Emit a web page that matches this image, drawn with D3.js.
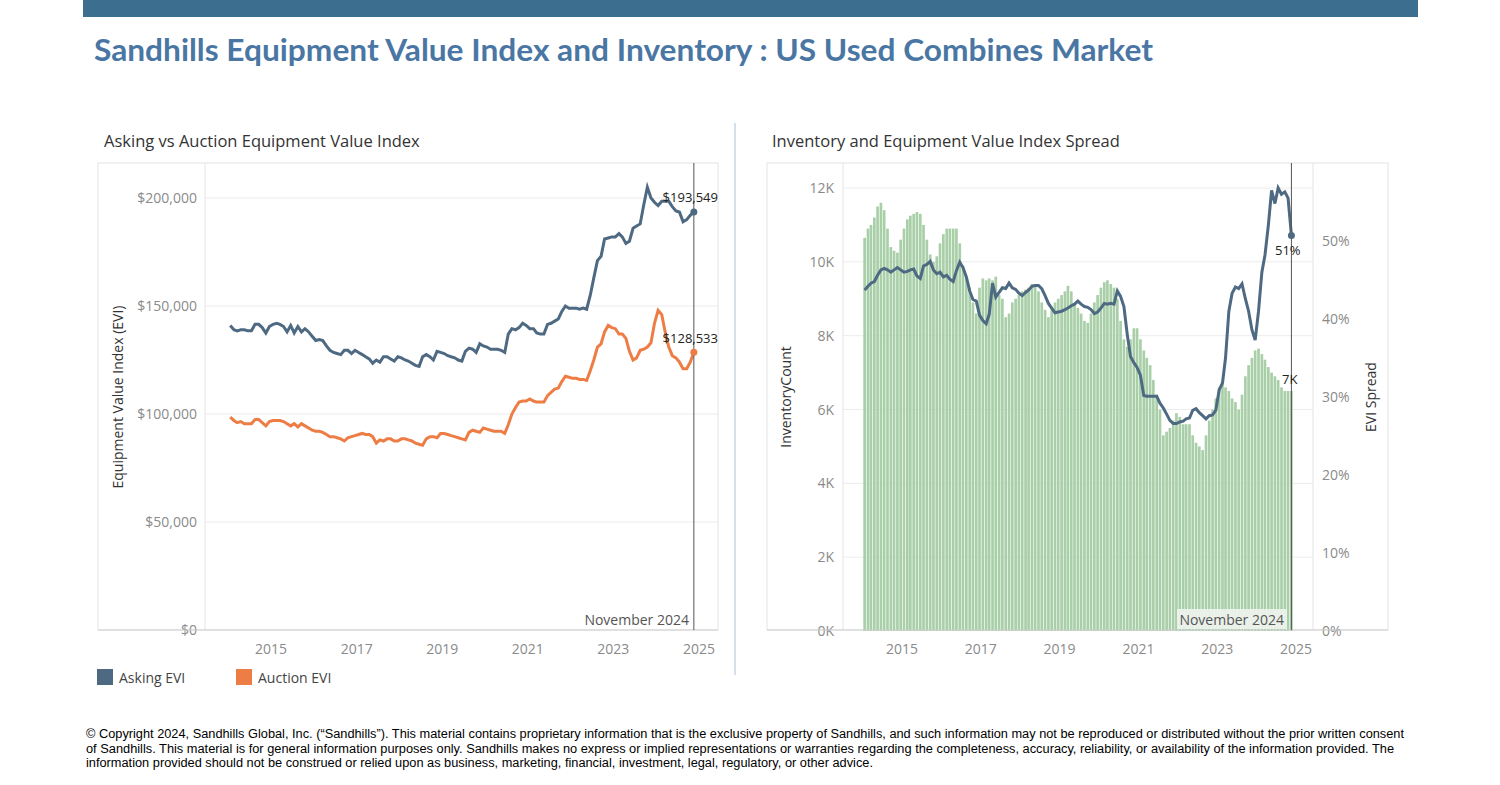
<!DOCTYPE html>
<html>
<head>
<meta charset="utf-8">
<script src="https://d3js.org/d3.v7.min.js"></script>
<style>
body{margin:0;background:#fff;}
text{font-family:"Open Sans",Lato,sans-serif;}
</style>
</head>
<body>
<svg id="chart" width="1500" height="785"></svg>
<script>
// monthly values, Jan 2014 .. Nov 2024
var askingEVI = [
  141,139,138.5,139,139,138.5,138.5,141.5,141.5,140,137.5,140.5,
  141.5,142,141.5,140.5,138,141,137.5,140.5,138,139.5,138,136,
  134,134.5,134,131.5,129.5,128.5,128,127.5,129.5,129.5,128,129.5,
  128.5,127.5,126.5,125.5,123.5,125,124,126.5,126.5,125.5,124.5,126.5,
  126,125,124.5,123.5,122.5,122,126.5,127.5,126.5,125,129,128.5,
  128,127,126.5,126,125,124.5,129,130.5,130,128.5,132.5,131.5,
  131,130,130,130,129.5,128.5,137,139.5,139,140,142,141,
  139.5,139.5,137.5,137,137,141.5,142,143,144,147.5,150,149,
  149,149,148.5,149,148.5,155,163,171,173,181,181.5,182,
  182,183.5,182,179,180,186,187,188,197,205,200,198,
  196.5,198.5,198.5,198.5,196,194,193.5,189,190,192,193.549
];
var auctionEVI = [
  98.5,97,96,96.5,95.5,95.5,95.5,97.5,97.5,96,94.5,96.5,
  97,97,97,96.5,95.5,94.5,95.5,94,95.5,94.5,93.5,92.5,
  92,92,91.5,90.5,89.5,89.5,89,88.5,87.5,89,89.5,90,
  90.5,91,90.5,90.5,89.5,86.5,88,87.5,88.5,88.5,87.5,87.5,
  88.5,88.5,88,87.5,86.5,86,85.5,88.5,89.5,89.5,89,91,
  91,90.5,90,89.5,89,88.5,88,91.5,92.5,92,91.5,93.5,
  93,92.5,92,92,92,91,95,100,103,105.5,106,106,
  107,106,105.5,105.5,105.5,108.5,110,111.5,112,115,117.5,117,
  116.5,116.5,116,116,115.5,120,125,131,132.5,138,141,140,
  139.5,137,137,135,129,125,126,129.5,130,131,133,142,
  148,146,138,131,127,126,124,121,121,124,128.533
];
var inventoryK = [
  10.65,10.9,11.0,11.2,11.5,11.6,11.4,10.9,10.4,10.3,10.25,10.6,
  10.9,11.15,11.25,11.3,11.35,11.3,11.0,10.6,10.2,10.0,10.15,10.5,
  10.75,10.9,10.9,10.9,10.9,10.5,9.9,9.6,9.3,8.9,8.6,9.3,
  9.55,9.5,9.55,9.5,9.6,9.1,9.0,8.5,8.6,8.9,9.0,9.1,
  9.2,9.25,9.3,9.4,9.4,9.2,8.9,8.7,8.5,8.7,8.9,9.0,
  9.1,9.2,9.35,9.2,8.85,8.75,8.6,8.4,8.35,8.6,8.9,9.1,
  9.3,9.45,9.5,9.4,9.3,9.0,8.4,7.9,7.7,7.9,8.2,8.2,
  7.9,7.6,7.4,7.2,6.8,6.4,6.0,5.3,5.4,5.5,5.7,5.9,
  5.8,5.6,5.6,5.6,5.3,5.1,5.0,4.9,5.3,5.7,6.0,6.3,
  6.6,6.7,6.6,6.5,6.3,6.2,6.0,6.4,6.9,7.2,7.4,7.6,
  7.65,7.5,7.35,7.15,7.0,6.9,6.8,6.6,6.5,6.5,6.5
];
var spreadPct = [
  43.7,44.2,44.6,44.8,45.6,46.3,46.5,46.3,46.0,46.3,46.6,46.3,
  46.0,46.1,46.3,46.4,45.5,45.2,46.8,47.0,47.4,46.3,45.8,46.0,
  45.4,45.6,45.1,44.8,46.2,47.3,46.6,45.4,43.6,42.5,42.3,40.5,
  39.8,39.4,40.6,44.6,42.8,43.4,44.0,43.9,44.6,44.0,43.8,43.3,
  43.0,43.4,43.7,44.2,44.3,44.3,43.9,43.0,42.0,41.4,40.8,40.9,
  41.0,41.2,41.4,41.7,41.9,42.3,41.9,41.6,41.5,41.2,40.7,40.9,
  41.4,42.0,41.9,42.0,41.9,43.6,42.9,41.6,38.0,35.2,34.4,33.8,
  32.8,30.2,30.1,30.1,30.1,30.1,29.2,28.6,27.8,27.0,26.6,26.6,
  26.8,26.9,27.2,27.3,28.3,28.5,28.0,27.6,27.2,27.6,27.7,28.3,
  30.9,31.8,35.0,41.0,43.3,44.1,43.9,44.5,42.6,41.0,38.6,37.3,
  41.0,46.0,48.2,52.0,56.5,54.8,56.8,56.0,56.3,55.5,50.7
];
var months = d3.range(askingEVI.length).map(function(i){ return new Date(2014, i, 1); });
var yearTicks = [2015,2017,2019,2021,2023,2025];
var lastMonth = months[months.length-1];

var svg = d3.select("#chart");
var blue = "#4e6982", orange = "#ed7d45", green = "#a9cfa8", grid = "#ececec", tickCol = "#8a8a8a";

svg.append("rect").attr("x",83).attr("y",0).attr("width",1335).attr("height",17).attr("fill","#3c6e90");
svg.append("text").attr("x",94).attr("y",61).attr("font-size",30).attr("font-weight","bold")
  .attr("fill","#4a76a4").style("font-family","Lato, sans-serif")
  .attr("textLength",1059).attr("lengthAdjust","spacingAndGlyphs")
  .text("Sandhills Equipment Value Index and Inventory : US Used Combines Market");
svg.append("line").attr("x1",735).attr("x2",735).attr("y1",123).attr("y2",675).attr("stroke","#d4e1ec").attr("stroke-width",2);

// ---------- left chart ----------
svg.append("text").attr("x",104).attr("y",147).attr("font-size",16.5).attr("fill","#333").text("Asking vs Auction Equipment Value Index");
var lx = d3.scaleTime().domain([new Date(2015,0,1), new Date(2025,0,1)]).range([273,701]);
var ly = d3.scaleLinear().domain([0,200]).range([630,198]);
var L = svg.append("g");
L.append("rect").attr("x",98).attr("y",163).attr("width",620).attr("height",467).attr("fill","none").attr("stroke","#e4e4e4");
[0,50,100,150,200].forEach(function(v){
  if(v>0) L.append("line").attr("x1",205).attr("x2",718).attr("y1",ly(v)).attr("y2",ly(v)).attr("stroke",grid);
  L.append("text").attr("x",197).attr("y",ly(v)+5).attr("text-anchor","end").attr("font-size",14).attr("fill",tickCol)
    .text("$"+d3.format(",")(v*1000));
});
L.append("line").attr("x1",205).attr("x2",205).attr("y1",163).attr("y2",630).attr("stroke","#e4e4e4");
L.append("line").attr("x1",98).attr("x2",718).attr("y1",630).attr("y2",630).attr("stroke","#cfcfcf");
yearTicks.forEach(function(y){
  L.append("text").attr("x",lx(new Date(y,0,1))-2).attr("y",654).attr("text-anchor","middle").attr("font-size",14).attr("fill",tickCol).text(y);
});
L.append("text").attr("transform","translate(123,397) rotate(-90)").attr("text-anchor","middle").attr("font-size",14).attr("fill","#333").text("Equipment Value Index (EVI)");
var lline = function(arr){ return d3.line().x(function(d,i){ return lx(months[i]); }).y(function(d){ return ly(d); })(arr); };
L.append("path").attr("d",lline(auctionEVI)).attr("fill","none").attr("stroke",orange).attr("stroke-width",3);
L.append("path").attr("d",lline(askingEVI)).attr("fill","none").attr("stroke",blue).attr("stroke-width",3);
L.append("line").attr("x1",lx(lastMonth)).attr("x2",lx(lastMonth)).attr("y1",163).attr("y2",630).attr("stroke","#555");
L.append("circle").attr("cx",lx(lastMonth)).attr("cy",ly(askingEVI[130])).attr("r",3.5).attr("fill",blue);
L.append("circle").attr("cx",lx(lastMonth)).attr("cy",ly(auctionEVI[130])).attr("r",3.5).attr("fill",orange);
L.append("text").attr("x",718).attr("y",202).attr("text-anchor","end").attr("font-size",13).attr("fill","#222").text("$193,549");
L.append("text").attr("x",718).attr("y",343).attr("text-anchor","end").attr("font-size",13).attr("fill","#222").text("$128,533");
L.append("text").attr("x",689).attr("y",625).attr("text-anchor","end").attr("font-size",14).attr("fill","#555").text("November 2024");
// legend
[["Asking EVI",blue,97],["Auction EVI",orange,236]].forEach(function(d){
  svg.append("rect").attr("x",d[2]).attr("y",669).attr("width",16).attr("height",16).attr("fill",d[1]);
  svg.append("text").attr("x",d[2]+22).attr("y",683).attr("font-size",14).attr("fill","#444").text(d[0]);
});

// ---------- right chart ----------
svg.append("text").attr("x",772).attr("y",147).attr("font-size",16.5).attr("fill","#333").text("Inventory and Equipment Value Index Spread");
var rx = d3.scaleTime().domain([new Date(2015,0,1), new Date(2025,0,1)]).range([904,1298]);
var ryL = d3.scaleLinear().domain([0,12]).range([631,188]);
var ryR = d3.scaleLinear().domain([0,50]).range([631,241]);
var R = svg.append("g");
R.append("rect").attr("x",767).attr("y",163).attr("width",621).attr("height",467).attr("fill","none").attr("stroke","#e4e4e4");
[0,2,4,6,8,10,12].forEach(function(v){
  if(v>0) R.append("line").attr("x1",843).attr("x2",1313).attr("y1",ryL(v)).attr("y2",ryL(v)).attr("stroke",grid);
  R.append("text").attr("x",834).attr("y",ryL(v)+5).attr("text-anchor","end").attr("font-size",14).attr("fill",tickCol).text(v+"K");
});
[0,10,20,30,40,50].forEach(function(v){
  R.append("text").attr("x",1322).attr("y",ryR(v)+5).attr("font-size",14).attr("fill",tickCol).text(v+"%");
});
R.append("line").attr("x1",843).attr("x2",843).attr("y1",163).attr("y2",630).attr("stroke","#e4e4e4");
R.append("line").attr("x1",1313).attr("x2",1313).attr("y1",163).attr("y2",630).attr("stroke","#e4e4e4");
var bw = (rx(new Date(2015,0,1)) - rx(new Date(2014,0,1)))/12;
R.selectAll("rect.bar").data(inventoryK).enter().append("rect").attr("class","bar")
  .attr("x",function(d,i){ return rx(months[i]) - bw/2 + 0.3; })
  .attr("width",bw-0.6)
  .attr("y",function(d){ return ryL(d); })
  .attr("height",function(d){ return ryL(0)-ryL(d); })
  .attr("fill",green);
R.append("line").attr("x1",767).attr("x2",1388).attr("y1",630).attr("y2",630).attr("stroke","#cfcfcf");
yearTicks.forEach(function(y){
  R.append("text").attr("x",rx(new Date(y,0,1))-2).attr("y",654).attr("text-anchor","middle").attr("font-size",14).attr("fill",tickCol).text(y);
});
R.append("text").attr("transform","translate(791,397) rotate(-90)").attr("text-anchor","middle").attr("font-size",14).attr("fill","#333").text("InventoryCount");
R.append("text").attr("transform","translate(1376,397) rotate(-90)").attr("text-anchor","middle").attr("font-size",14).attr("fill","#333").text("EVI Spread");
R.append("path").attr("d",d3.line().x(function(d,i){ return rx(months[i]); }).y(function(d){ return ryR(d); })(spreadPct))
  .attr("fill","none").attr("stroke",blue).attr("stroke-width",3);
R.append("line").attr("x1",rx(lastMonth)).attr("x2",rx(lastMonth)).attr("y1",163).attr("y2",630).attr("stroke","#555");
R.append("circle").attr("cx",rx(lastMonth)).attr("cy",ryR(spreadPct[130])).attr("r",3.5).attr("fill",blue);
R.append("text").attr("x",1275).attr("y",255).attr("font-size",13).attr("fill","#222").text("51%");
R.append("text").attr("x",1282).attr("y",384).attr("font-size",13).attr("fill","#222").text("7K");
R.append("rect").attr("x",1177).attr("y",609).attr("width",110).attr("height",20).attr("fill","#eef3ee").attr("opacity",0.9);
R.append("text").attr("x",1284).attr("y",625).attr("text-anchor","end").attr("font-size",14).attr("fill","#555").text("November 2024");

// footer
var foot = ["© Copyright 2024, Sandhills Global, Inc. (“Sandhills”). This material contains proprietary information that is the exclusive property of Sandhills, and such information may not be reproduced or distributed without the prior written consent",
  "of Sandhills. This material is for general information purposes only. Sandhills makes no express or implied representations or warranties regarding the completeness, accuracy, reliability, or availability of the information provided. The",
  "information provided should not be construed or relied upon as business, marketing, financial, investment, legal, regulatory, or other advice."];
var footLen = [1318, 1308, 787];
foot.forEach(function(t,i){
  svg.append("text").attr("x",86).attr("y",738+i*14.5).attr("font-size",12).style("font-family","'Liberation Sans', Arial, sans-serif").attr("fill","#000")
    .attr("textLength",footLen[i]).attr("lengthAdjust","spacingAndGlyphs").text(t);
});
</script>
</body>
</html>
